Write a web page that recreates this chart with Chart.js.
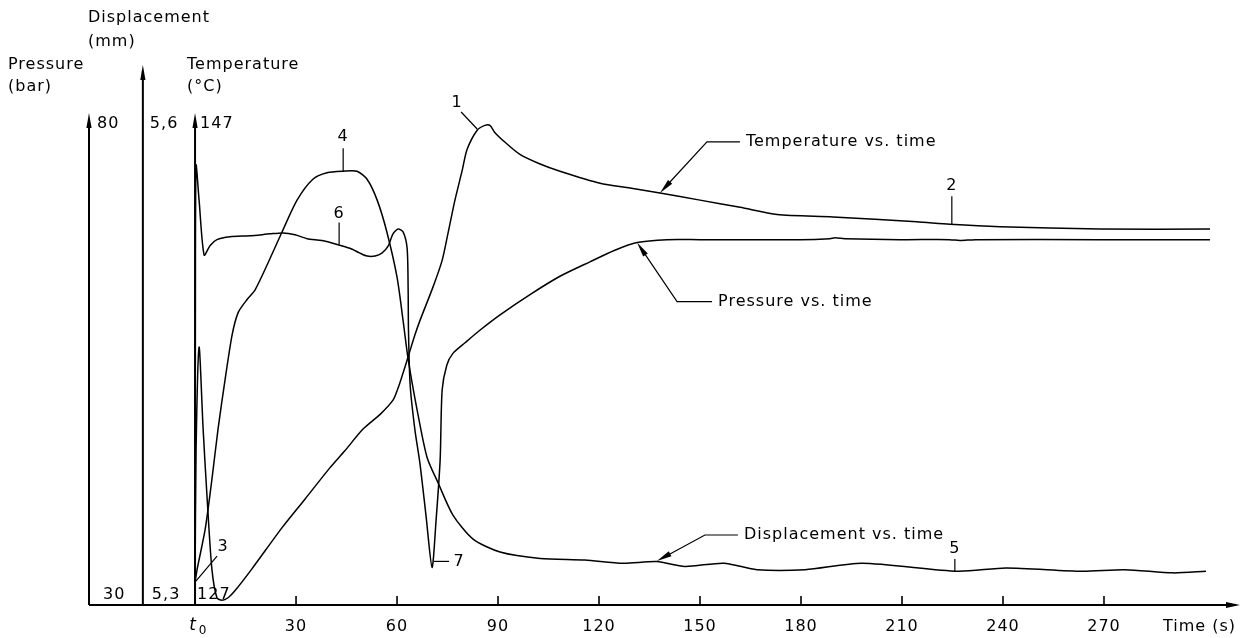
<!DOCTYPE html>
<html>
<head>
<meta charset="utf-8">
<script src="https://cdn.jsdelivr.net/npm/chart.js@4/dist/chart.umd.min.js"></script>
<style>
  html, body { margin: 0; padding: 0; background: #fff; }
  #wrap { width: 1242px; height: 638px; }
</style>
</head>
<body>
<div id="wrap"><canvas id="chart" width="1242" height="638"></canvas></div>
<script>
// --- data (time in s) ---
const pressureTime = [0, 0.1, 0.3, 1.2, 2.7, 4.5, 6.5, 10.4, 16.3, 22.3, 26.1, 29.7, 33.3, 37.7, 42.2,
  46.0, 49.0, 51.1, 53.5, 55.5, 57.3, 58.8, 60.3, 61.8, 63.0, 63.3, 63.4, 63.9, 65.3, 66.8,
  68.6, 70.4, 71.6, 72.8, 73.4, 74.8, 76.6, 80.2, 84.6, 90.6, 99.5, 108.4, 117.3, 124.7, 131.3,
  140.2, 150.0, 179.7, 188.6, 190.1, 193.0, 209.4, 224.2, 227.2, 231.7, 268.8, 301.5];
const pressureBar = [30, 61.6, 75.6, 72.0, 66.3, 67.3, 67.9, 68.2, 68.3, 68.5, 68.6, 68.4, 68.0, 67.8, 67.4,
  67.0, 66.5, 66.2, 66.2, 66.5, 67.2, 68.5, 69.0, 68.7, 67.0, 62.7, 58.5, 52.8, 48.2, 44.7,
  39.3, 33.9, 38.8, 45.0, 52.3, 54.9, 56.1, 57.2, 58.5, 60.1, 62.2, 64.1, 65.6, 66.8, 67.6,
  67.9, 67.9, 67.9, 68.0, 68.1, 68.0, 67.9, 67.9, 67.8, 67.9, 67.9, 67.9];

const tempTime = [0, 0.3, 1.2, 2.4, 3.6, 5.0, 6.5, 8.0, 9.8, 11.9, 16.9, 25.8, 32.7, 40.1, 44.5,
  49.9, 54.9, 58.8, 60.3, 61.5, 63.3, 65.3, 66.8, 70.7, 73.4, 75.1, 77.2, 79.3, 80.8, 83.8,
  86.1, 87.6, 89.1, 92.1, 96.5, 102.5, 108.4, 120.3, 129.2, 138.1, 150.0, 161.9, 172.9, 189.5, 214.4,
  224.2, 239.1, 268.8, 301.5];
const tempC = [127.95, 133.4, 137.7, 134.3, 131.4, 128.5, 127.3, 127.2, 127.3, 127.6, 128.5, 130.2, 131.4, 132.7, 133.4,
  134.3, 134.9, 135.5, 136.0, 136.5, 137.3, 138.2, 138.8, 140.2, 141.3, 142.4, 143.8, 145.0, 145.9, 146.7,
  146.9, 146.9, 146.6, 146.2, 145.7, 145.3, 145.0, 144.5, 144.3, 144.1, 143.8, 143.5, 143.2, 143.1, 142.9,
  142.8, 142.7, 142.6, 142.6];

const dispTime = [0, 0.6, 3.0, 5.0, 6.8, 8.9, 11.0, 12.8, 15.4, 17.8, 21.7, 25.8, 30.3, 35.0, 39.2,
  44.0, 48.1, 51.1, 54.1, 57.0, 60.0, 61.8, 63.3, 66.0, 68.9, 72.2, 76.6, 82.6, 90.6, 102.5,
  115.8, 127.1, 137.2, 145.5, 157.1, 166.9, 181.2, 198.1, 226.6, 240.9, 263.4, 276.2, 290.5, 300.3];
const dispMm = [5.314, 5.322, 5.347, 5.378, 5.409, 5.440, 5.468, 5.482, 5.490, 5.496, 5.513, 5.532, 5.552, 5.565, 5.569,
  5.570, 5.570, 5.565, 5.552, 5.532, 5.504, 5.477, 5.453, 5.421, 5.392, 5.376, 5.356, 5.341, 5.333, 5.329,
  5.328, 5.326, 5.327, 5.324, 5.326, 5.322, 5.322, 5.326, 5.321, 5.323, 5.321, 5.322, 5.320, 5.321];

// axis ranges and tick labels
const timeTicks = [30, 60, 90, 120, 150, 180, 210, 240, 270];
const pressureRange = [30, 80];
const dispRange = [5.3, 5.6];
const tempRange = [127, 147];
const pressureLabels = ['30', '80'];
const dispLabels = ['5,3', '5,6'];
const tempLabels = ['127', '147'];

// where the three vertical axes stand on the time scale
const pressureAxisT = -31.5;
const dispAxisT = -15.5;
const tempAxisT = 0;

// numbered points: [text, y axis, time, value, leader dx, leader dy, text dx, text dy, leader start dx, dy]
const numberNotes = [
  ['1', 'yT', 83.8, 146.75, -16, -17, -20, -26, 0, 0],
  ['2', 'yT', 224.8, 142.8, 0, -28, 0, -38, 0, 0],
  ['3', 'yT', 0, 127.95, 22, -26, 28, -35, 0, 0],
  ['4', 'yD', 44.0, 5.570, 0, -23, 0, -34, 0, 0],
  ['5', 'yD', 225.7, 5.3212, 0, -12, 0, -22, 0, 0],
  ['6', 'yP', 42.8, 67.4, 0, -22, 0, -31, 0, 0],
  ['7', 'yP', 70.4, 33.9, 17, -6, 27, -6, 2, -6]
];

// curve names with arrows: [text, y axis, time, value, elbow dx, dy, line length]
const curveNotes = [
  ['Temperature vs. time', 'yT', 138.1, 144.1, 47, -51, 33],
  ['Pressure vs. time', 'yP', 131.3, 67.6, 40, 59, 35],
  ['Displacement vs. time', 'yD', 137.2, 5.3274, 48, -26, 33]
];

const FONT = '16px "DejaVu Sans", sans-serif';

function points(xs, ys) {
  return xs.map((x, i) => ({ x: x, y: ys[i] }));
}

function arrowHead(ctx, x, y, angle, len, half) {
  ctx.save();
  ctx.translate(x, y);
  ctx.rotate(angle);
  ctx.beginPath();
  ctx.moveTo(0, 0);
  ctx.lineTo(-len, -half);
  ctx.lineTo(-len, half);
  ctx.closePath();
  ctx.fill();
  ctx.restore();
}

function text(ctx, s, x, y, align) {
  ctx.textAlign = align || 'left';
  ctx.fillText(s, x, y);
}

const drawingPlugin = {
  id: 'drawing',
  afterDatasetsDraw(chart) {
    const ctx = chart.ctx;
    const xs = chart.scales.x;
    const area = chart.chartArea;
    const base = area.bottom;
    const px = xs.getPixelForValue(pressureAxisT);
    const dx = xs.getPixelForValue(dispAxisT);
    const tx = xs.getPixelForValue(tempAxisT);

    ctx.save();
    ctx.strokeStyle = '#000';
    ctx.fillStyle = '#000';
    ctx.lineCap = 'butt';

    // time axis
    ctx.lineWidth = 2;
    ctx.beginPath();
    ctx.moveTo(px, base);
    ctx.lineTo(area.right - 4, base);
    ctx.stroke();
    arrowHead(ctx, area.right, base, 0, 14, 3);

    // three vertical axes
    [[px, 10], [dx, 58], [tx, 10]].forEach(([x, ext]) => {
      ctx.beginPath();
      ctx.moveTo(x, base);
      ctx.lineTo(x, area.top - ext + 6);
      ctx.stroke();
      arrowHead(ctx, x, area.top - ext, -Math.PI / 2, 15, 2.6);
    });

    // time ticks
    ctx.lineWidth = 1.6;
    timeTicks.forEach(t => {
      const x = xs.getPixelForValue(t);
      ctx.beginPath();
      ctx.moveTo(x, base);
      ctx.lineTo(x, base - 9);
      ctx.stroke();
    });

    ctx.font = FONT;
    ctx.letterSpacing = '1px';
    ctx.textBaseline = 'middle';
    timeTicks.forEach(t => text(ctx, String(t), xs.getPixelForValue(t), base + 22, 'center'));
    text(ctx, 'Time (s)', area.right - 4, base + 22, 'right');

    // t0
    ctx.font = 'italic 17px "DejaVu Sans", sans-serif';
    text(ctx, 't', tx - 2, base + 21, 'center');
    ctx.font = '12px "DejaVu Sans", sans-serif';
    text(ctx, '0', tx + 8, base + 26, 'center');

    // axis titles and end values
    ctx.font = FONT;
    text(ctx, 'Pressure', px - 81, area.top - 58);
    text(ctx, '(bar)', px - 81, area.top - 36);
    text(ctx, 'Displacement', px - 1, area.top - 105);
    text(ctx, '(mm)', px - 1, area.top - 81);
    text(ctx, 'Temperature', tx - 8, area.top - 58);
    text(ctx, '(\u00B0C)', tx - 8, area.top - 36);

    text(ctx, pressureLabels[1], px + 8, area.top + 1);
    text(ctx, dispLabels[1], dx + 7, area.top + 1);
    text(ctx, tempLabels[1], tx + 5, area.top + 1);
    text(ctx, pressureLabels[0], px + 14, base - 10);
    text(ctx, dispLabels[0], dx + 9, base - 10);
    text(ctx, tempLabels[0], tx + 2, base - 10);

    // numbered points
    ctx.lineWidth = 1.2;
    numberNotes.forEach(([s, axis, t, v, lx, ly, sx, sy, ox, oy]) => {
      const x = xs.getPixelForValue(t);
      const y = chart.scales[axis].getPixelForValue(v);
      ctx.beginPath();
      ctx.moveTo(x + ox, y + oy);
      ctx.lineTo(x + lx, y + ly);
      ctx.stroke();
      text(ctx, s, x + sx, y + sy, 'center');
    });

    // curve names with arrows
    curveNotes.forEach(([s, axis, t, v, ex, ey, len]) => {
      const x = xs.getPixelForValue(t);
      const y = chart.scales[axis].getPixelForValue(v);
      const angle = Math.atan2(-ey, -ex);
      ctx.beginPath();
      ctx.moveTo(x + ex + len, y + ey);
      ctx.lineTo(x + ex, y + ey);
      ctx.lineTo(x - Math.cos(angle) * 8, y - Math.sin(angle) * 8);
      ctx.stroke();
      arrowHead(ctx, x, y, angle, 15, 2.8);
      text(ctx, s, x + ex + len + 6, y + ey);
    });

    ctx.restore();
  }
};

const lineStyle = {
  showLine: true,
  borderColor: '#000',
  borderWidth: 1.5,
  pointRadius: 0,
  tension: 0.25,
  fill: false
};

new Chart(document.getElementById('chart'), {
  type: 'scatter',
  data: {
    datasets: [
      Object.assign({ label: 'Pressure', data: points(pressureTime, pressureBar), yAxisID: 'yP' }, lineStyle),
      Object.assign({ label: 'Temperature', data: points(tempTime, tempC), yAxisID: 'yT' }, lineStyle),
      Object.assign({ label: 'Displacement', data: points(dispTime, dispMm), yAxisID: 'yD' }, lineStyle)
    ]
  },
  options: {
    responsive: false,
    animation: false,
    devicePixelRatio: 1,
    layout: { padding: { left: 89, right: 2, top: 123, bottom: 33 } },
    plugins: { legend: { display: false }, tooltip: { enabled: false } },
    scales: {
      x: { type: 'linear', min: pressureAxisT, max: 310.4, display: false },
      yP: { type: 'linear', min: pressureRange[0], max: pressureRange[1], display: false },
      yD: { type: 'linear', min: dispRange[0], max: dispRange[1], display: false },
      yT: { type: 'linear', min: tempRange[0], max: tempRange[1], display: false }
    }
  },
  plugins: [drawingPlugin]
});
</script>
</body>
</html>
